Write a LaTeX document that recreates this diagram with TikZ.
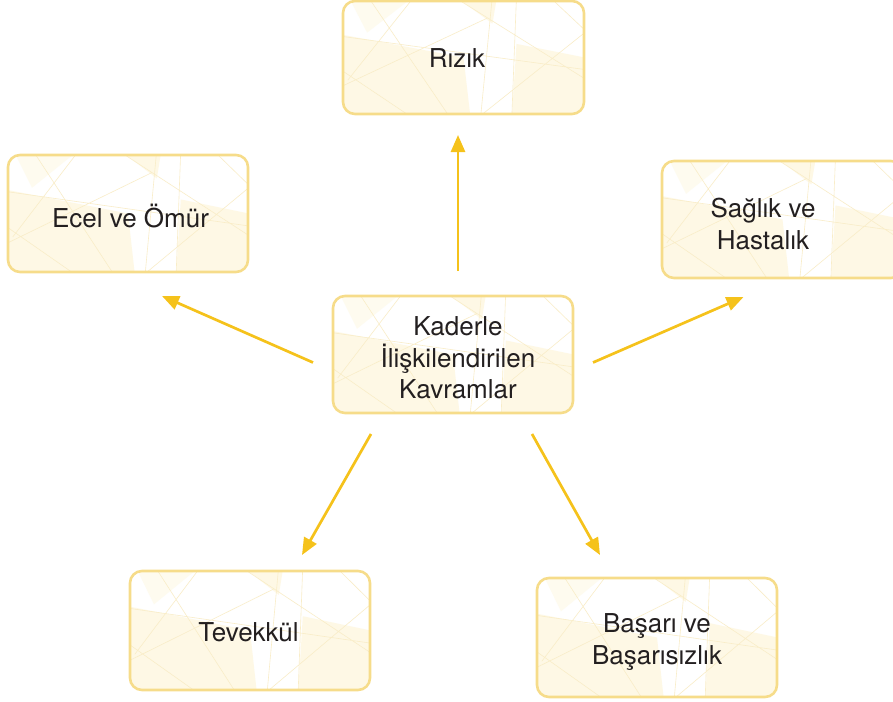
\documentclass[tikz,border=0pt]{standalone}
\usepackage{fontspec}
\setmainfont{TeX Gyre Heros}
\usetikzlibrary{arrows.meta,calc}
\definecolor{boxborder}{HTML}{F6DC8A}
\definecolor{boxpale}{HTML}{FEF8E5}
\definecolor{boxline}{HTML}{F9EDC8}
\definecolor{arrowgold}{HTML}{F5C21B}
\definecolor{txt}{HTML}{231F20}
\tikzset{
  boxshape/.style={fill=white,inner sep=0pt,outer sep=0pt,rounded corners=12pt},
  boxedge/.style={draw=boxborder,line width=2.6pt,rounded corners=12pt},
  label text/.style={font=\fontsize{26}{31.5}\selectfont,text=txt,align=center,inner sep=0pt},
  arr/.style={draw=arrowgold,line width=2.7pt,-{Triangle[length=17pt,width=14pt]}}
}
\newcommand\decopattern{%
  \fill[boxpale] (0,0.3) -- (0.5,0.5) -- (0.53,1.05) -- (0,1.05) -- cycle;
  \fill[boxpale] (0.46,-0.05) -- (0.64,-0.05) -- (0.62,0.2) -- cycle;
  \fill[boxpale] (0.72,0.38) -- (1.05,0.52) -- (1.05,1.05) -- (0.7,1.05) -- cycle;
  \fill[boxpale!60!white] (0.02,-0.05) -- (0.3,-0.05) -- (0.1,0.28) -- cycle;
  \draw[boxline,line width=0.6pt]
    (-0.05,0.3) -- (1.05,0.62)
    (0.1,-0.05) -- (0.45,1.05)
    (0.3,-0.05) -- (0.02,0.7)
    (0.62,-0.05) -- (0.57,1.05)
    (0.72,-0.05) -- (0.7,1.05)
    (0.45,-0.05) -- (1.05,0.75)
    (-0.05,0.8) -- (0.6,0.15)
    (0.55,1.05) -- (1.05,0.2)
    (0.85,-0.05) -- (1.05,0.35)
    (-0.05,0.55) -- (0.3,1.05);
}
\newcommand\conceptbox[5]{%
  \node[boxshape,minimum width=#4pt,minimum height=#5pt] (#1) at (#2,#3) {};
  \begin{scope}
    \clip[rounded corners=12pt] (#1.north west) rectangle (#1.south east);
    \begin{scope}[shift={(#1.north west)},x=#4pt,y=-#5pt]
      \decopattern
    \end{scope}
  \end{scope}
  \draw[boxedge] (#1.north west) rectangle (#1.south east);
}
\begin{document}
\begin{tikzpicture}[x=1pt,y=-1pt]
\useasboundingbox (0,0) rectangle (893,701);
% boxes
\conceptbox{rizikbox}{463.5}{57.5}{241}{113}
\node[label text] (rizik) at (457,58) {Rızık};
\conceptbox{ecelbox}{128}{213.5}{240}{117}
\node[label text] (ecel) at (130.5,216) {Ecel ve Ömür};
\conceptbox{saglikbox}{782.5}{219.5}{241}{117}
\node[label text] (saglik) at (763,224) {Sağlık ve\\Hastalık};
\conceptbox{centerbox}{453}{354.5}{240}{117}
\node[label text] (center) at (458,358) {Kaderle\\İlişkilendirilen\\Kavramlar};
\conceptbox{tevbox}{250}{630.5}{240}{119}
\node[label text] (tev) at (248.5,632) {Tevekkül};
\conceptbox{basbox}{657}{637.5}{240}{119}
\node[label text] (bas) at (657,642) {Başarı ve\\Başarısızlık};
% arrows
\draw[arr] ([xshift=5pt,yshift=25pt]centerbox.north) -- ([xshift=-5.5pt,yshift=-21pt]rizikbox.south);
\draw[arr] ([xshift=-20pt,yshift=-8pt]centerbox.west) -- ([xshift=34pt,yshift=-24pt]ecelbox.south);
\draw[arr] ([xshift=20pt,yshift=-8pt]centerbox.east) -- ([xshift=-39pt,yshift=-19pt]saglikbox.south);
\draw[arr] ([xshift=-82pt,yshift=-21pt]centerbox.south) -- ([xshift=52pt,yshift=16pt]tevbox.north);
\draw[arr] ([xshift=79pt,yshift=-21pt]centerbox.south) -- ([xshift=-57pt,yshift=23pt]basbox.north);
\end{tikzpicture}
\end{document}
